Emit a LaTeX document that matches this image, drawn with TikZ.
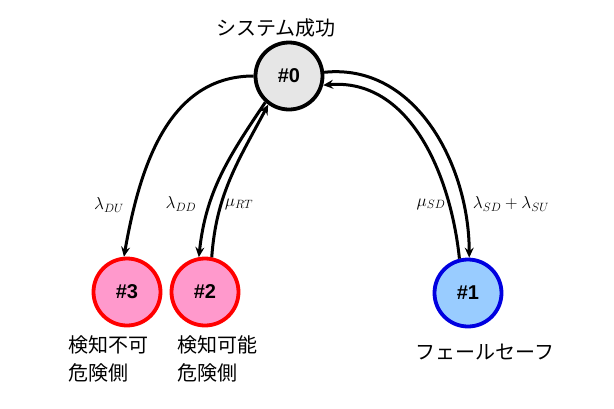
\documentclass[tikz,border=0pt]{standalone}
\usepackage{fontspec}
\setmainfont{Liberation Sans}
\newfontfamily\jpfont{Noto Sans CJK JP}
\usetikzlibrary{arrows.meta}
\definecolor{grayfill}{HTML}{E6E6E6}
\definecolor{pinkfill}{HTML}{FF99CC}
\definecolor{bluefill}{HTML}{99CCFF}
\definecolor{redline}{HTML}{FF0000}
\definecolor{blueline}{HTML}{0000E0}
\tikzset{
  state/.style={circle,minimum size=67pt,inner sep=0pt,line width=3.8pt,font=\bfseries\fontsize{20}{22}\selectfont},
  s0/.style={state,draw=black,fill=grayfill},
  sred/.style={state,draw=redline,fill=pinkfill},
  sblue/.style={state,draw=blueline,fill=bluefill},
  jp/.style={font=\jpfont\fontsize{20}{28}\selectfont,align=left,inner sep=0pt},
  arr/.style={line width=3pt,-{Stealth[length=10pt,width=9pt,inset=3.5pt]}},
  lab/.style={font=\fontsize{17}{19}\selectfont,inner sep=0pt}
}
\begin{document}
\begin{tikzpicture}[x=1pt,y=-1pt]
\useasboundingbox (0,0) rectangle (614,408);
\node[s0] (n0) at (289,76) {\#0};
\node[sred] (n3) at (127,292) {\#3};
\node[sred] (n2) at (205,292) {\#2};
\node[sblue] (n1) at (468,293) {\#1};
\node[jp] (t0) at (276,28) {システム成功};
\node[jp,anchor=north west] (t3) at (68,335) {検知不可\\危険側};
\node[jp,anchor=north west] (t2) at (177,335) {検知可能\\危険側};
\node[jp] (t1) at (485,352) {フェールセーフ};
\draw[arr] (n0.180) to[out=180,in=80] (n3.95);
\draw[arr] (n0.228) to[out=236,in=84] (n2.100);
\draw[arr] (n2.79) to[out=86,in=242] (n0.234);
\draw[arr] (n0.6) to[out=6,in=90] (n1.88);
\draw[arr] (n1.104) to[out=96,in=5] (n0.345);
\node[lab] (l3) at (109,205) {$\lambda_{DU}$};
\node[lab] (l2) at (181,204) {$\lambda_{DD}$};
\node[lab] (l2b) at (239,204) {$\mu_{RT}$};
\node[lab] (l1b) at (431,204) {$\mu_{SD}$};
\node[lab] (l1) at (511,204) {$\lambda_{SD}+\lambda_{SU}$};
\end{tikzpicture}
\end{document}
